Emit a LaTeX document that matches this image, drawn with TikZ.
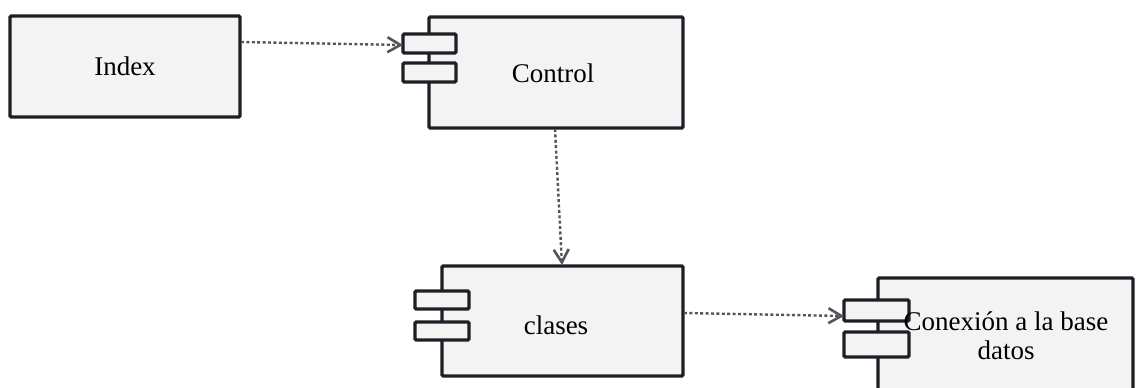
\documentclass[tikz,border=0pt]{standalone}
\usepackage{fontspec}
\setmainfont{Liberation Serif}
\usetikzlibrary{arrows.meta,calc}
\definecolor{boxfill}{HTML}{F3F3F3}
\definecolor{boxline}{HTML}{1E1E26}
\definecolor{dep}{HTML}{55555A}
\begin{document}
\begin{tikzpicture}[x=0.5pt,y=-0.5pt,
  box/.style={draw=boxline,fill=boxfill,line width=1.7pt,rounded corners=0.6pt,inner sep=0pt,
    font=\fontsize{13.5}{14.5}\selectfont},
  port/.style={draw=boxline,fill=boxfill,line width=1.7pt,rounded corners=0.6pt,inner sep=0pt},
  depend/.style={draw=dep,line width=1.2pt,dash pattern=on 1.5pt off 1.2pt,
    -{Straight Barb[length=6.5pt,width=7.5pt,line width=1.3pt]}}]
\useasboundingbox (0,0) rectangle (1136,387);
\clip (0,0) rectangle (1136,387);
\fill[white] (0,0) rectangle (1136,387);
% Index
\node[box,minimum width=115pt,minimum height=50.5pt] (idx) at (125,66.5) {Index};
% Control
\node[box,minimum width=127pt,minimum height=55.5pt] (ctrl) at (556,72.5) {};
\node[port,minimum width=26.5pt,minimum height=9.5pt] (cp1) at (429.5,43.5) {};
\node[port,minimum width=26.5pt,minimum height=9.5pt] (cp2) at (429.5,72.5) {};
\node[font=\fontsize{13.5}{14.5}\selectfont] (ctrlt) at (553,73) {Control};
% clases
\node[box,minimum width=120.5pt,minimum height=55pt] (cls) at (562.5,321) {};
\node[port,minimum width=27pt,minimum height=9pt] (clp1) at (442,300) {};
\node[port,minimum width=27pt,minimum height=9pt] (clp2) at (442,331) {};
\node[font=\fontsize{13.5}{14.5}\selectfont] (clst) at (556,325) {clases};
% Conexion
\node[box,minimum width=127.5pt,minimum height=61pt] (cnx) at (1005.5,339) {};
\node[port,minimum width=32.5pt,minimum height=10.5pt] (xp1) at (876.5,310.5) {};
\node[port,minimum width=32.5pt,minimum height=12.5pt] (xp2) at (876.5,344.5) {};
\node[align=center,font=\fontsize{13.5}{14.5}\selectfont] (cnxt) at (1006,336) {Conexión a la base\\datos};
% connectors
\coordinate (a1s) at (241,42);
\coordinate (a1e) at (403,45);
\coordinate (a2s) at (555,129);
\coordinate (a2e) at (562,265);
\coordinate (a3s) at (684,313);
\coordinate (a3e) at (844,316);
\draw[depend] (a1s) -- (a1e);
\draw[depend] (a2s) -- (a2e);
\draw[depend] (a3s) -- (a3e);
\end{tikzpicture}
\end{document}
